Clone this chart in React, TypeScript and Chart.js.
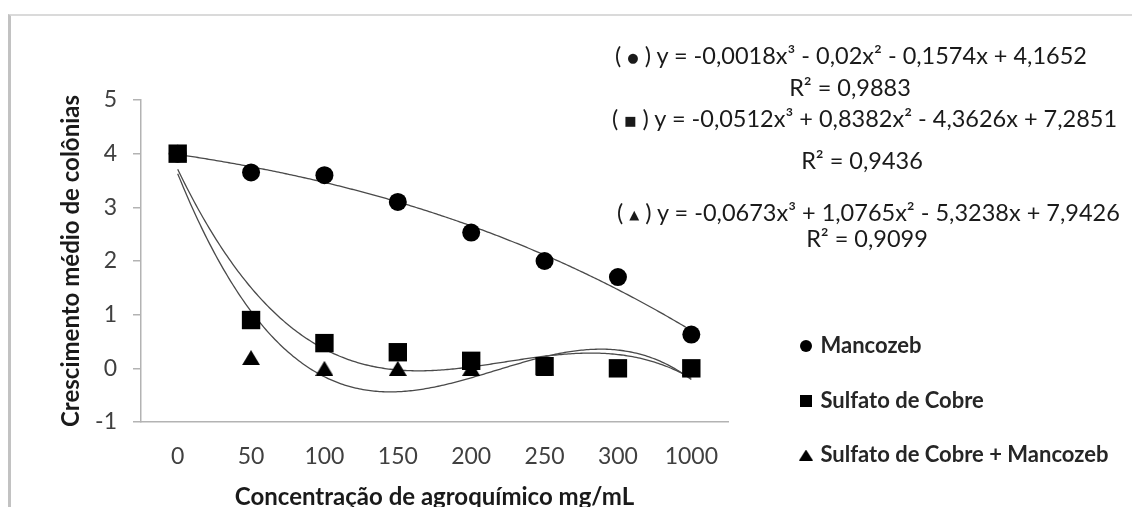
import React, { useEffect, useRef } from 'react';
import { Chart, registerables } from 'chart.js';

Chart.register(...registerables);

// ---------- data ----------
const categories = ['0', '50', '100', '150', '200', '250', '300', '1000'];
const seriesNames = ['Mancozeb', 'Sulfato de Cobre', 'Sulfato de Cobre + Mancozeb'];
const mancozeb = [4.0, 3.65, 3.6, 3.1, 2.53, 2.0, 1.7, 0.63];
const sulfatoCobre = [4.0, 0.9, 0.47, 0.3, 0.14, 0.04, 0.0, 0.0];
const sulfatoMancozeb = [4.0, 0.2, 0.0, 0.0, 0.0, 0.0, 0.0, 0.0];
const yMin = -1;
const yMax = 5;
const yStep = 1;
// cubic trend-line coefficients (x³, x², x, 1) printed on the chart; x = 1..8
const fitMancozeb = [-0.0018, -0.02, -0.1574, 4.1652];
const fitSulfato = [-0.0512, 0.8382, -4.3626, 7.2851];
const fitMistura = [-0.0673, 1.0765, -5.3238, 7.9426];
const eqMarkers = ['●', '■', '▲'];
const eqBodies = [
  'y = -0,0018x³ - 0,02x² - 0,1574x + 4,1652',
  'y = -0,0512x³ + 0,8382x² - 4,3626x + 7,2851',
  'y = -0,0673x³ + 1,0765x² - 5,3238x + 7,9426',
];
const r2Labels = ['R² = 0,9883', 'R² = 0,9436', 'R² = 0,9099'];
const yTitle = 'Crescimento médio de colônias';
const xTitle = 'Concentração de agroquímico mg/mL';

// ---------- layout constants ----------
const W = 1132;
const H = 507;
const FONT = 'Lato';
const eqLeft = [615, 612, 617];
const eqY = [55, 118, 212];
const r2X = [850, 862, 867];
const r2Y = [87, 160, 238];
const LEGEND_FONT = 22;
const LEGEND_PAD = 32.5;
const LEGEND_BOX = 7;
const LEGEND_X = 802.5;
const LEGEND_FIRST_CENTER = 346;

function makeMark(kind: string, w: number, h: number): HTMLCanvasElement {
  const c = document.createElement('canvas');
  c.width = w;
  c.height = h;
  const ctx = c.getContext('2d')!;
  ctx.fillStyle = '#000';
  ctx.beginPath();
  if (kind === 'triangle') {
    ctx.moveTo(w / 2, 0);
    ctx.lineTo(w, h);
    ctx.lineTo(0, h);
    ctx.closePath();
  } else if (kind === 'rect') {
    ctx.rect(0, 0, w, h);
  } else {
    ctx.arc(w / 2, h / 2, Math.min(w, h) / 2, 0, Math.PI * 2);
  }
  ctx.fill();
  return c;
}

const trendPlugin = {
  id: 'trendLines',
  beforeDatasetsDraw(chart: any) {
    const xs = chart.scales.x;
    const ys = chart.scales.y;
    const ctx = chart.ctx;
    const fits = [fitMancozeb, fitSulfato, fitMistura];
    ctx.save();
    ctx.beginPath();
    ctx.rect(chart.chartArea.left, chart.chartArea.top, chart.chartArea.right - chart.chartArea.left, chart.chartArea.bottom - chart.chartArea.top);
    ctx.clip();
    ctx.strokeStyle = '#4a4a4a';
    ctx.lineWidth = 1.3;
    fits.forEach((f) => {
      ctx.beginPath();
      const n = categories.length;
      for (let i = 0; i <= (n - 1) * 40; i++) {
        const t = 1 + i / 40;
        const v = f[0] * t * t * t + f[1] * t * t + f[2] * t + f[3];
        const px = xs.getPixelForValue(t - 1);
        const py = ys.getPixelForValue(v);
        if (i === 0) ctx.moveTo(px, py);
        else ctx.lineTo(px, py);
      }
      ctx.stroke();
    });
    ctx.restore();
  },
};

const legendPlacer = {
  id: 'legendPlacer',
  afterLayout(chart: any) {
    const lg = chart.legend;
    if (!lg) return;
    const left = LEGEND_X - LEGEND_PAD;
    const top = LEGEND_FIRST_CENTER - LEGEND_FONT / 2 - LEGEND_PAD;
    const w = W - left;
    lg.left = left;
    lg.right = left + w;
    lg.width = w;
    lg.top = top;
    lg.bottom = top + 320;
    lg.height = 320;
  },
};

export default function App() {
  const ref = useRef<HTMLCanvasElement | null>(null);

  useEffect(() => {
    if (!ref.current) return;
    const triPoint = makeMark('triangle', 18, 15);
    const legendMarks = [makeMark('circle', 12, 12), makeMark('rect', 12, 12), makeMark('triangle', 14, 11)];
    const chart = new Chart(ref.current, {
      type: 'line',
      data: {
        labels: categories,
        datasets: [
          {
            label: seriesNames[0],
            data: mancozeb,
            showLine: false,
            pointStyle: 'circle',
            pointRadius: 9,
            pointBackgroundColor: '#000',
            pointBorderColor: '#000',
            pointBorderWidth: 0,
            order: 1,
          },
          {
            label: seriesNames[1],
            data: sulfatoCobre,
            showLine: false,
            pointStyle: 'rect',
            pointRadius: 13,
            pointBackgroundColor: '#000',
            pointBorderColor: '#000',
            pointBorderWidth: 0,
            order: 0,
          },
          {
            label: seriesNames[2],
            data: sulfatoMancozeb,
            showLine: false,
            pointStyle: triPoint as any,
            pointRadius: 9,
            pointBackgroundColor: '#000',
            pointBorderColor: '#000',
            pointBorderWidth: 0,
            order: 2,
          },
        ],
      },
      options: {
        animation: false,
        responsive: false,
        devicePixelRatio: 1,
        layout: { padding: { top: 100, left: 0, right: 104, bottom: 0 } },
        plugins: {
          tooltip: { enabled: false },
          legend: {
            display: true,
            position: 'right',
            align: 'start',
            maxWidth: 300,
            labels: {
              usePointStyle: true,
              boxWidth: LEGEND_BOX,
              boxHeight: LEGEND_BOX,
              padding: LEGEND_PAD,
              color: '#262626',
              font: { family: FONT, size: LEGEND_FONT, weight: 'bold' },
              sort: (a: any, b: any) => a.datasetIndex - b.datasetIndex,
              generateLabels: (ch: any) => {
                const items = (Chart.defaults.plugins.legend.labels as any).generateLabels(ch);
                return items.map((it: any) => ({ ...it, pointStyle: legendMarks[it.datasetIndex] }));
              },
            },
          },
        },
        scales: {
          x: {
            type: 'category',
            offset: true,
            grid: { display: false, drawTicks: false },
            border: { display: true, color: '#b3b3b3', width: 1.5 },
            ticks: {
              color: '#404040',
              padding: 21,
              font: { family: FONT, size: 23 },
              maxRotation: 0,
              autoSkip: false,
            },
            title: {
              display: true,
              text: xTitle,
              color: '#1a1a1a',
              font: { family: FONT, size: 24, weight: 'bold', lineHeight: 0.8 },
              padding: { top: 0, bottom: 0 },
            },
            afterFit: (s: any) => {
              s.height = H - 422;
            },
          },
          y: {
            type: 'linear',
            min: yMin,
            max: yMax,
            grid: { drawOnChartArea: false, drawTicks: true, tickLength: 8, color: '#b3b3b3', lineWidth: 1.5 },
            border: { display: true, color: '#b3b3b3', width: 1.5 },
            ticks: {
              stepSize: yStep,
              color: '#404040',
              padding: 16,
              font: { family: FONT, size: 23 },
              callback: (v: any) => String(v),
            },
            title: {
              display: true,
              text: yTitle,
              color: '#1a1a1a',
              font: { family: FONT, size: 24, weight: 'bold', lineHeight: 1.2 },
              padding: { top: 57, bottom: 0 },
            },
            afterFit: (s: any) => {
              s.width = 141;
            },
          },
        },
      },
      plugins: [trendPlugin, legendPlacer],
    } as any);
    return () => chart.destroy();
  }, []);

  const eqStyle: React.CSSProperties = {
    position: 'absolute',
    whiteSpace: 'nowrap',
    fontFamily: FONT,
    fontSize: 23.5,
    lineHeight: '32px',
    height: 32,
    color: '#1a1a1a',
  };

  return (
    <div style={{ position: 'fixed', left: 0, top: 0, width: W, height: H, overflow: 'hidden', background: '#fff' }}>
      <div
        style={{
          position: 'absolute',
          left: 8,
          top: 14,
          width: W,
          height: H,
          borderLeft: '3px solid #c2c2c2',
          borderTop: '2px solid #dadada',
        }}
      />
      <canvas ref={ref} width={W} height={H} style={{ position: 'absolute', left: 0, top: 0, width: W, height: H }} />
      {eqBodies.map((b, i) => (
        <div key={'eq' + i} style={{ ...eqStyle, left: eqLeft[i], top: eqY[i] - 16 }}>
          {'( '}
          <span style={{ fontFamily: 'DejaVu Sans', fontSize: 13, verticalAlign: 'middle' }}>{eqMarkers[i]}</span>
          {' ) '}
          {b}
        </div>
      ))}
      {r2Labels.map((r, i) => (
        <div key={'r2' + i} style={{ ...eqStyle, left: r2X[i], top: r2Y[i] - 16, transform: 'translateX(-50%)' }}>
          {r}
        </div>
      ))}
    </div>
  );
}
